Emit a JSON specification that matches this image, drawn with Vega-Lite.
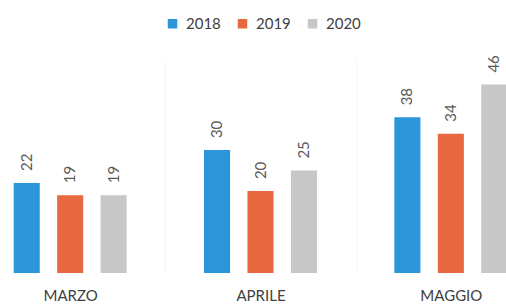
{
  "$schema": "https://vega.github.io/schema/vega-lite/v6.json",
  "width": 506,
  "height": 213,
  "autosize": "none",
  "padding": {"left": 0, "top": 60, "right": 0, "bottom": 32},
  "background": "white",
  "config": {"view": {"stroke": null}, "font": "Lato"},
  "data": {"values": [
    {"mese": "MARZO", "anno": "2018", "valore": 22},
    {"mese": "MARZO", "anno": "2019", "valore": 19},
    {"mese": "MARZO", "anno": "2020", "valore": 19},
    {"mese": "APRILE", "anno": "2018", "valore": 30},
    {"mese": "APRILE", "anno": "2019", "valore": 20},
    {"mese": "APRILE", "anno": "2020", "valore": 25},
    {"mese": "MAGGIO", "anno": "2018", "valore": 38},
    {"mese": "MAGGIO", "anno": "2019", "valore": 34},
    {"mese": "MAGGIO", "anno": "2020", "valore": 46}
  ]},
  "encoding": {
    "x": {
      "field": "mese", "type": "nominal", "sort": ["MARZO", "APRILE", "MAGGIO"],
      "scale": {"range": [-25, 546], "paddingInner": 0, "paddingOuter": 0},
      "axis": {"title": null, "labelAngle": 0, "tickBand": "extent", "grid": true, "gridColor": "#f5f5f5", "ticks": false, "domain": false, "labelFontSize": 15, "labelColor": "#404040", "labelPadding": 15, "labelBaseline": "top"}
    },
    "xOffset": {"field": "anno", "type": "nominal", "scale": {"paddingInner": 0.4, "paddingOuter": 0.89}},
    "y": {"field": "valore", "type": "quantitative", "scale": {"domain": [0, 52]}, "axis": null}
  },
  "layer": [
    {
      "mark": {"type": "bar"},
      "encoding": {
        "color": {
          "field": "anno", "type": "nominal",
          "scale": {"domain": ["2018", "2019", "2020"], "range": ["#2D96DA", "#E8693F", "#C7C7C7"]},
          "legend": {"orient": "none", "legendX": 165, "legendY": -44, "direction": "horizontal", "title": null, "symbolType": "square", "symbolSize": 90, "symbolStrokeWidth": 0, "labelFontSize": 15, "labelColor": "#404040", "columnPadding": 14, "labelOffset": 6}
        }
      }
    },
    {
      "mark": {"type": "text", "angle": 270, "align": "left", "baseline": "middle", "dx": 12, "fontSize": 15, "color": "#595959"},
      "encoding": {"text": {"field": "valore", "type": "quantitative"}}
    }
  ]
}
